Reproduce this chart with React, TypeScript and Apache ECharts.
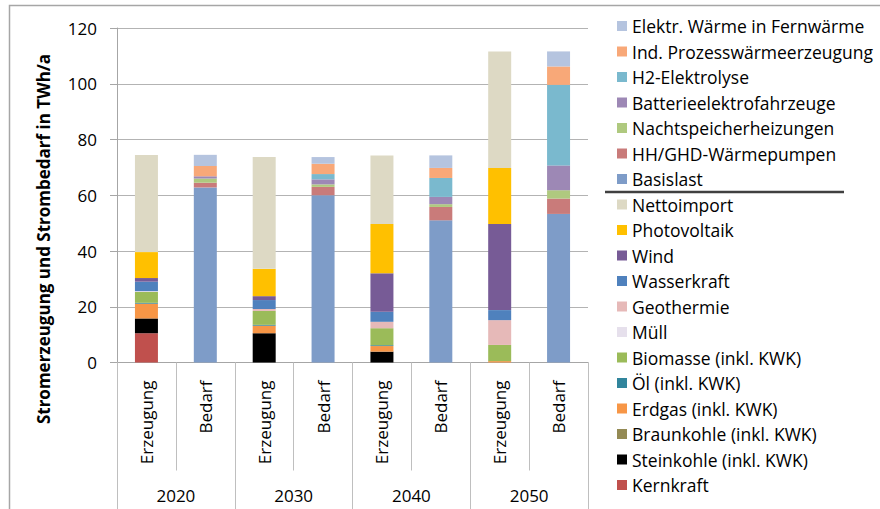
import React, { useEffect, useRef } from "react";
import * as echarts from "echarts";

const years = ["2020", "2030", "2040", "2050"];
const subCats = ["Erzeugung", "Bedarf"];
const yTicks = [0, 20, 40, 60, 80, 100, 120];
const yTitle = "Stromerzeugung und Strombedarf in TWh/a";

// Erzeugung (per year 2020, 2030, 2040, 2050)
const kernkraft = [10.5, 0, 0, 0];
const steinkohle = [5.3, 10.5, 3.9, 0];
const braunkohle = [0, 0, 0, 0];
const erdgas = [5.3, 2.7, 2.0, 0.5];
const oel = [0.3, 0.3, 0.3, 0];
const biomasse = [3.9, 5.0, 6.1, 5.8];
const muell = [0.3, 0, 0, 0];
const geothermie = [0, 0.7, 2.3, 8.9];
const wasserkraft = [3.4, 3.2, 3.6, 3.6];
const wind = [1.3, 1.4, 13.8, 30.9];
const photovoltaik = [9.3, 9.8, 17.7, 20.1];
const nettoimport = [34.8, 40.1, 24.6, 41.8];

// Bedarf (per year)
const basislast = [62.8, 60.0, 51.0, 53.3];
const waermepumpen = [1.7, 3.0, 4.8, 5.5];
const nachtspeicher = [1.5, 0.9, 1.0, 3.0];
const batterie = [0.8, 1.8, 2.6, 8.9];
const h2 = [0, 1.9, 6.8, 28.9];
const prozesswaerme = [3.7, 3.7, 3.6, 6.6];
const fernwaerme = [4.0, 2.4, 4.5, 5.4];

const genSeries: [string, number[], string][] = [
  ["Kernkraft", kernkraft, "#C0504D"],
  ["Steinkohle (inkl. KWK)", steinkohle, "#000000"],
  ["Braunkohle (inkl. KWK)", braunkohle, "#948A54"],
  ["Erdgas (inkl. KWK)", erdgas, "#F79646"],
  ["Öl (inkl. KWK)", oel, "#31859C"],
  ["Biomasse (inkl. KWK)", biomasse, "#9BBB59"],
  ["Müll", muell, "#E6E0EC"],
  ["Geothermie", geothermie, "#E6B9B8"],
  ["Wasserkraft", wasserkraft, "#4F81BD"],
  ["Wind", wind, "#775B96"],
  ["Photovoltaik", photovoltaik, "#FFC000"],
  ["Nettoimport", nettoimport, "#DDD9C4"],
];

const demSeries: [string, number[], string][] = [
  ["Basislast", basislast, "#7E9CC8"],
  ["HH/GHD-Wärmepumpen", waermepumpen, "#C97B7A"],
  ["Nachtspeicherheizungen", nachtspeicher, "#AFC97F"],
  ["Batterieelektrofahrzeuge", batterie, "#9D88B5"],
  ["H2-Elektrolyse", h2, "#7AB9CE"],
  ["Ind. Prozesswärmeerzeugung", prozesswaerme, "#F8A878"],
  ["Elektr. Wärme in Fernwärme", fernwaerme, "#B5C4DF"],
];

const legendOrder = [
  "Elektr. Wärme in Fernwärme",
  "Ind. Prozesswärmeerzeugung",
  "H2-Elektrolyse",
  "Batterieelektrofahrzeuge",
  "Nachtspeicherheizungen",
  "HH/GHD-Wärmepumpen",
  "Basislast",
  "Nettoimport",
  "Photovoltaik",
  "Wind",
  "Wasserkraft",
  "Geothermie",
  "Müll",
  "Biomasse (inkl. KWK)",
  "Öl (inkl. KWK)",
  "Erdgas (inkl. KWK)",
  "Braunkohle (inkl. KWK)",
  "Steinkohle (inkl. KWK)",
  "Kernkraft",
];

const FONT = "Open Sans";

export default function App() {
  const ref = useRef<HTMLDivElement>(null);
  useEffect(() => {
    document.body.style.margin = "0";
    const chart = echarts.init(ref.current!, null, { renderer: "svg" });
    const cats: string[] = [];
    years.forEach(() => subCats.forEach((s) => cats.push(s)));
    const build = (vals: number[], slot: number) => {
      const out: (number | null)[] = [];
      vals.forEach((v) => {
        out.push(slot === 0 ? v : null);
        out.push(slot === 1 ? v : null);
      });
      return out;
    };
    const series: any[] = [];
    genSeries.forEach(([name, vals, color]) =>
      series.push({
        name,
        type: "bar",
        stack: "total",
        barWidth: 23,
        data: build(vals, 0),
        itemStyle: { color },
      })
    );
    demSeries.forEach(([name, vals, color]) =>
      series.push({
        name,
        type: "bar",
        stack: "total",
        barWidth: 23,
        data: build(vals, 1),
        itemStyle: { color },
      })
    );
    chart.setOption({
      animation: false,
      textStyle: { fontFamily: FONT },
      grid: { left: 117, top: 28, right: 292, bottom: 146.5, containLabel: false },
      legend: {
        orient: "vertical",
        left: 612,
        top: 12,
        icon: "rect",
        itemWidth: 10,
        itemHeight: 10,
        itemGap: 7.5,
        data: legendOrder,
        textStyle: { fontFamily: FONT, fontSize: 17.5, color: "#000", lineHeight: 18 },
        selectedMode: false,
      },
      xAxis: [
        {
          type: "category",
          data: cats,
          position: "bottom",
          axisLine: { show: true, lineStyle: { color: "#A6A6A6", width: 1 } },
          axisTick: { show: true, interval: 0, length: 108, lineStyle: { color: "#BFBFBF" } },
          axisLabel: { rotate: 90, margin: 18, interval: 0, fontSize: 17, color: "#000", fontFamily: FONT },
        },
        {
          type: "category",
          data: years,
          position: "bottom",
          offset: 0,
          axisLine: { show: false },
          axisTick: { show: true, interval: 0, length: 147, lineStyle: { color: "#BFBFBF" } },
          axisLabel: { margin: 124, interval: 0, fontSize: 17, color: "#000", fontFamily: FONT },
        },
      ],
      yAxis: {
        type: "value",
        min: yTicks[0],
        max: yTicks[yTicks.length - 1],
        interval: 20,
        axisLine: { show: true, lineStyle: { color: "#A6A6A6" } },
        axisTick: { show: true, length: 7, lineStyle: { color: "#A6A6A6" } },
        axisLabel: { margin: 20, fontSize: 17, color: "#000", fontFamily: FONT },
        splitLine: { show: true, lineStyle: { color: "#B3B3B3", width: 1 } },
      },
      graphic: [
        {
          type: "rect",
          silent: true,
          z: -1,
          shape: { x: 9.5, y: 5.5, width: 900, height: 520 },
          style: { fill: "none", stroke: "#A6A6A6", lineWidth: 1.5 },
        },
        {
          type: "line",
          silent: true,
          shape: { x1: 605, y1: 192, x2: 844, y2: 192 },
          style: { stroke: "#404040", lineWidth: 2.5 },
        },
        {
          type: "text",
          silent: true,
          x: 43,
          y: 239,
          rotation: Math.PI / 2,
          style: {
            text: yTitle,
            fontFamily: FONT,
            fontSize: 17,
            fontWeight: "bold",
            fill: "#000",
            align: "center",
            verticalAlign: "middle",
          },
        },
      ],
      series,
    });
    return () => chart.dispose();
  }, []);
  return <div ref={ref} style={{ width: 880, height: 509 }} />;
}
